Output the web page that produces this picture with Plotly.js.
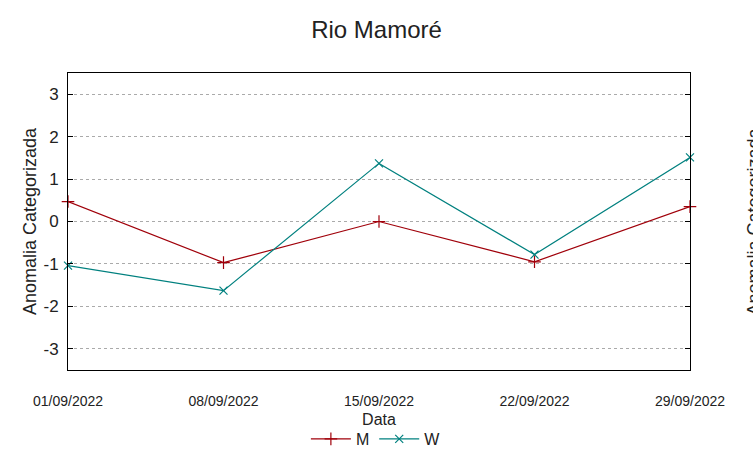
<!DOCTYPE html>
<html>
<head>
<meta charset="utf-8">
<script src="https://cdn.plot.ly/plotly-3.0.1.min.js"></script>
<style>html,body{margin:0;padding:0;background:#fff;}#chart{width:753px;height:458px;}</style>
</head>
<body>
<div id="chart"></div>
<script>
const dates = ["2022-09-01", "2022-09-08", "2022-09-15", "2022-09-22", "2022-09-29"];
const tickLabels = ["01/09/2022", "08/09/2022", "15/09/2022", "22/09/2022", "29/09/2022"];
const seriesM = [0.47, -0.97, 0.0, -0.95, 0.35];
const seriesW = [-1.04, -1.63, 1.37, -0.78, 1.51];
const yTicks = [-3, -2, -1, 0, 1, 2, 3];
const yTickLabels = ["-3", "-2", "-1", "0", "1", "2", "3"];

const traces = [
  {x: dates, y: seriesM, name: "M", type: "scatter", mode: "lines+markers", cliponaxis: false,
   line: {color: "#a0000a", width: 1.2},
   marker: {symbol: "cross-thin", size: 9, line: {color: "#a0000a", width: 1.2}}},
  {x: dates, y: seriesW, name: "W", type: "scatter", mode: "lines+markers", cliponaxis: false,
   line: {color: "#00807f", width: 1.2},
   marker: {symbol: "x-thin", size: 8, line: {color: "#00807f", width: 1.2}}}
];

const sans = "Liberation Sans, Arial, sans-serif";

const layout = {
  width: 753, height: 458,
  margin: {l: 68, r: 63, t: 73, b: 88, autoexpand: false},
  paper_bgcolor: "#fff", plot_bgcolor: "#fff",
  font: {family: sans, color: "#222"},
  title: {text: "Rio Mamoré", x: 0.5, xanchor: "center", y: 0.935, yanchor: "middle",
          font: {size: 24, color: "#222"}},
  xaxis: {
    type: "date", range: [dates[0], dates[dates.length - 1]],
    tickvals: dates, ticktext: tickLabels, automargin: false,
    tickfont: {family: sans, size: 14, color: "#222"},
    showgrid: false, zeroline: false, ticks: "outside", ticklen: 18, tickcolor: "rgba(0,0,0,0)",
    showline: true, linecolor: "#000", linewidth: 1, mirror: true,
    title: {text: "Data", standoff: 6, font: {family: sans, size: 16, color: "#222"}}
  },
  yaxis: {
    range: [-3.5, 3.5], tickvals: yTicks, ticktext: yTickLabels, automargin: false,
    tickfont: {size: 17, color: "#222"}, ticklabelstandoff: 5,
    showgrid: true, gridcolor: "#aaaaaa", griddash: "dot", gridwidth: 1,
    zeroline: false, ticks: "inside", ticklen: 5, tickcolor: "#000",
    showline: true, linecolor: "#000", linewidth: 1, mirror: "allticks",
    title: {text: "Anomalia Categorizada", standoff: 2, font: {size: 18, color: "#222"}}
  },
  showlegend: true,
  legend: {orientation: "h", x: 0.495, xanchor: "center", y: (370 - 439) / 297, yanchor: "middle",
           font: {family: sans, size: 16, color: "#222"},
           itemwidth: 40, tracegroupgap: 0, bgcolor: "rgba(0,0,0,0)"},
  annotations: [
    {text: "Anomalia Categorizada", xref: "paper", yref: "paper", x: (753 - 68) / 622, y: 0.5,
     xanchor: "center", yanchor: "middle", textangle: -90, showarrow: false,
     font: {size: 18, color: "#222"}}
  ]
};

Plotly.newPlot("chart", traces, layout, {displayModeBar: false, staticPlot: true});
</script>
</body>
</html>
